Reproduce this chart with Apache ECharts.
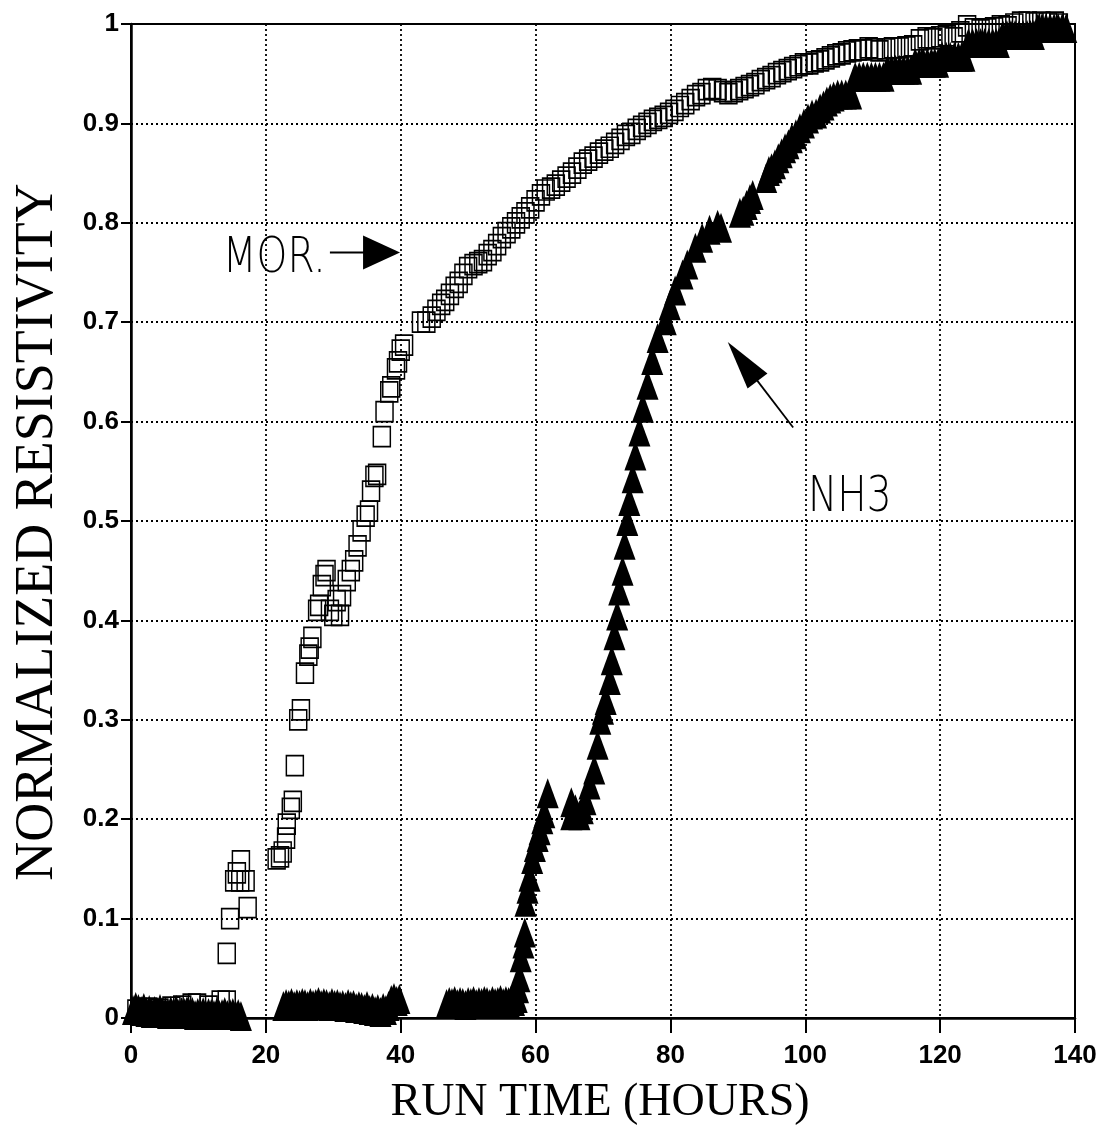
<!DOCTYPE html>
<html><head><meta charset="utf-8">
<script src="https://cdn.jsdelivr.net/npm/echarts@6/dist/echarts.min.js"></script>
<style>html,body{margin:0;padding:0;background:#fff}#c{width:1106px;height:1140px}</style>
</head><body><div id="c"></div>
<script>
// ---- axis ticks / labels ----
const xTickLabels = ['0','20','40','60','80','100','120','140'];
const yTickLabels = ['0','0.1','0.2','0.3','0.4','0.5','0.6','0.7','0.8','0.9','1'];
const xTitle = 'RUN TIME (HOURS)';
const yTitle = 'NORMALIZED RESISTIVITY';

// ---- MOR. series (open squares) ----
const morLow = [[0.8,0.008],[2.5,0.010],[4.2,0.009],[6.0,0.011],[7.6,0.012],[9.0,0.014],[9.8,0.014],[11.5,0.012],[13.3,0.017],[14.2,0.017]];
const morRise = [[14.2,0.065],[14.7,0.100],[15.3,0.138],[15.7,0.146],[16.2,0.138],[16.3,0.158],[17.0,0.138],[17.3,0.111],
 [21.6,0.160],[22.1,0.162],[22.5,0.167],[23.0,0.181],[23.1,0.195],[23.7,0.211],[24.0,0.218],[24.3,0.254],[24.8,0.300],[25.2,0.310],
 [25.8,0.347],[26.3,0.365],[26.5,0.372],[26.9,0.383],[27.6,0.410],[27.9,0.415],[28.3,0.435],[28.7,0.445],[29.0,0.450],[29.5,0.410],
 [30.0,0.405],[30.5,0.420],[31.0,0.405],[31.3,0.425],[32.0,0.440],[32.6,0.450],[33.1,0.460],[33.6,0.475],[34.2,0.490],[34.8,0.505],
 [35.3,0.510],[35.6,0.530],[36.1,0.545],[36.5,0.547],[37.2,0.585],[37.6,0.610],[38.3,0.630],[38.6,0.635],[39.3,0.653],[39.6,0.660],
 [40.0,0.672],[40.5,0.677]];
const morUpper = [[43.0,0.700],[43.8,0.700],[44.6,0.705],[45.3,0.712],[46.0,0.718],[46.6,0.722],[47.3,0.728],[48.0,0.735],[48.6,0.740],
 [49.3,0.748],[50.0,0.755],[50.8,0.758],[51.5,0.760],[52.2,0.762],[52.9,0.768],[53.6,0.772],[54.3,0.778],[55.0,0.785],[55.7,0.790],
 [56.4,0.795],[57.1,0.800],[57.8,0.805],[58.5,0.810],[59.2,0.815],[60.0,0.822],[60.8,0.828],[61.5,0.833],[62.3,0.835],[63.0,0.838],
 [63.8,0.842],[64.6,0.846],[65.4,0.850],[66.2,0.855],[67.0,0.860],[67.8,0.863],[68.6,0.866],[69.4,0.870],[70.2,0.873],[71.0,0.876],
 [71.8,0.880],[72.6,0.884],[73.4,0.888],[74.2,0.890],[75.0,0.894],[75.8,0.897],[76.6,0.900],[77.4,0.903],[78.2,0.905],[79.0,0.907],
 [79.8,0.910],[80.6,0.913],[81.4,0.917],[82.2,0.920],[83.0,0.924],[83.8,0.928],[84.6,0.930],[85.4,0.934],[86.2,0.935],[87.0,0.934],
 [87.8,0.932],[88.6,0.930],[89.4,0.932],[90.2,0.934],[91.0,0.936],[91.8,0.938],[92.6,0.940],[93.4,0.943],[94.2,0.945],[95.0,0.947],
 [95.8,0.950],[96.6,0.952],[97.4,0.954],[98.2,0.956],[99.0,0.958],[99.8,0.960],[100.6,0.960],[101.4,0.962],[102.2,0.963],[103.0,0.965],
 [103.8,0.967],[104.6,0.969],[105.4,0.970],[106.2,0.972],[107.0,0.973],[107.8,0.974],[108.6,0.974],[109.4,0.976],[110.2,0.975],
 [111.0,0.973],[112.0,0.975],[113.0,0.976],[114.0,0.976],[115.0,0.977],[116.0,0.978]];
const morTop = [[117.0,0.984],[118.0,0.986],[119.0,0.985],[120.0,0.987],[121.0,0.988],[122.0,0.986],[123.0,0.992],[124.0,0.998],
 [125.0,0.995],[126.0,0.994],[127.0,0.995],[128.0,0.996],[129.0,0.998],[130.0,0.997],[131.0,1.000],[132.0,1.002],[133.0,1.002],
 [134.0,1.001],[135.0,1.002],[136.0,1.001],[137.0,1.002],[137.6,1.000]];

// ---- NH3 series (filled triangles) ----
const nh3Base1 = [[0.3,0.008],[0.7,0.011],[1.1,0.009],[1.5,0.007],[1.9,0.010],[2.3,0.006],[2.7,0.008],[3.1,0.005],[3.5,0.007],[3.9,0.006],
 [4.3,0.009],[4.7,0.005],[5.1,0.006],[5.5,0.004],[5.9,0.007],[6.3,0.005],[6.7,0.008],[7.1,0.004],[7.5,0.006],[7.9,0.005],[8.3,0.007],
 [8.7,0.004],[9.1,0.006],[9.5,0.003],[9.9,0.005],[10.3,0.004],[10.7,0.006],[11.1,0.003],[11.5,0.005],[11.9,0.004],[12.3,0.003],
 [12.7,0.005],[13.1,0.003],[13.5,0.004],[13.9,0.006],[14.3,0.003],[14.7,0.004],[15.1,0.005],[15.5,0.003],[15.9,0.004],[16.3,0.002]];
const nh3Base2 = [[22.6,0.012],[23.0,0.014],[23.4,0.013],[23.8,0.015],[24.2,0.012],[24.6,0.014],[25.0,0.013],[25.4,0.015],[25.8,0.014],
 [26.2,0.012],[26.6,0.015],[27.0,0.013],[27.4,0.014],[27.8,0.016],[28.2,0.013],[28.6,0.015],[29.0,0.014],[29.4,0.012],[29.8,0.015],
 [30.2,0.013],[30.6,0.014],[31.0,0.012],[31.4,0.013],[31.8,0.011],[32.2,0.014],[32.6,0.012],[33.0,0.013],[33.4,0.010],[33.8,0.012],
 [34.2,0.011],[34.6,0.009],[35.0,0.012],[35.4,0.008],[35.8,0.010],[36.2,0.007],[36.6,0.009],[37.0,0.006],[37.4,0.010],[37.8,0.008],
 [38.2,0.012],[38.6,0.018],[39.0,0.020],[39.4,0.017],[39.8,0.019]];
const nh3Base3 = [[46.8,0.014],[47.2,0.016],[47.6,0.015],[48.0,0.017],[48.4,0.014],[48.8,0.016],[49.2,0.015],[49.6,0.013],[50.0,0.016],
 [50.4,0.015],[50.8,0.017],[51.2,0.014],[51.6,0.016],[52.0,0.015],[52.4,0.017],[52.8,0.016],[53.2,0.014],[53.6,0.017],[54.0,0.015],
 [54.4,0.016],[54.8,0.018],[55.2,0.015],[55.6,0.017],[56.0,0.016],[56.4,0.018],[56.8,0.017],[57.2,0.020]];
const nh3Rise = [[57.4,0.030],[57.6,0.041],[57.8,0.061],[58.2,0.075],[58.4,0.086],[58.5,0.117],[58.8,0.130],[59.1,0.142],[59.5,0.160],
 [59.9,0.172],[60.3,0.182],[60.6,0.189],[61.0,0.200],[61.3,0.206],[61.8,0.226],[65.3,0.204],[65.3,0.217],[65.9,0.210],[66.5,0.204],
 [67.0,0.210],[67.4,0.219],[68.0,0.235],[68.7,0.250],[69.2,0.275],[69.6,0.300],[70.0,0.310],[70.4,0.320],[71.0,0.340],[71.3,0.360],
 [71.7,0.385],[72.1,0.405],[72.4,0.430],[72.9,0.450],[73.2,0.476],[73.6,0.500],[73.9,0.520],[74.4,0.543],[74.8,0.566],[75.4,0.590],
 [75.9,0.614],[76.6,0.637],[77.3,0.662],[78.1,0.684],[79.3,0.702],[79.9,0.717],[80.7,0.732],[81.8,0.748],[82.5,0.758],[83.7,0.775],
 [84.7,0.785],[85.8,0.793],[87.0,0.798],[87.5,0.795]];
const nh3Upper = [[90.3,0.810],[90.8,0.812],[91.3,0.818],[91.8,0.824],[92.2,0.828],[94.2,0.845],[94.6,0.852],[95.0,0.855],[95.5,0.859],
 [96.0,0.865],[96.5,0.870],[97.0,0.875],[97.5,0.879],[98.0,0.885],[98.6,0.889],[99.2,0.895],[99.8,0.900],[100.4,0.905],[101.0,0.909],
 [101.6,0.910],[102.2,0.915],[102.7,0.918],[103.2,0.922],[103.7,0.925],[104.2,0.927]];
const nh3Plateau = [[104.8,0.929],[105.4,0.929],[106.0,0.929],[106.8,0.929],
 [107.4,0.947],[108.0,0.947],[108.6,0.947],[109.2,0.947],[109.8,0.947],[110.4,0.947],[111.0,0.947],[111.6,0.947],
 [112.2,0.954],[112.8,0.954],[113.4,0.954],[114.0,0.954],[114.6,0.954],[115.2,0.954],[115.7,0.954],
 [116.3,0.961],[116.9,0.961],[117.5,0.961],[118.1,0.961],[118.7,0.961],[119.2,0.961],[119.7,0.961],
 [120.3,0.967],[120.9,0.967],[121.5,0.967],[122.1,0.967],[122.7,0.967],[123.2,0.967],[123.6,0.967],
 [124.2,0.981],[124.8,0.981],[125.4,0.981],[126.0,0.981],[126.6,0.981],[127.2,0.981],[127.8,0.981],[128.3,0.981],[128.7,0.981],
 [129.3,0.989],[129.9,0.989],[130.5,0.989],[131.1,0.989],[131.7,0.989],[132.3,0.989],[132.9,0.989],[133.4,0.989],[133.9,0.989],
 [134.5,0.996],[135.1,0.996],[135.7,0.996],[136.3,0.996],[136.9,0.996],[137.5,0.996],[138.1,0.996],[138.7,0.996]];

// ---- annotations (data coordinates) ----
const morLabel = {text:'MOR.', at:[13.6,0.763]};
const morArrow = {tail:[29.5,0.770], tip:[39.9,0.770]};
const nh3Label = {text:'NH3', at:[100.4,0.523]};
const nh3Arrow = {tail:[98.2,0.594], tip:[88.5,0.680]};

const morData = [].concat(morLow, morRise, morUpper, morTop);
const nh3Data = [].concat(nh3Base1, nh3Base2, nh3Base3, nh3Rise, nh3Upper, nh3Plateau);

const chart = echarts.init(document.getElementById('c'), null, {renderer:'canvas'});
const gridStyle = {color:'#000', width:1.8, type:[2,3]};
chart.setOption({
  animation:false,
  backgroundColor:'#fff',
  grid:{left:131, right:31, top:24, bottom:122, show:true, borderColor:'#000', borderWidth:2, backgroundColor:'transparent'},
  xAxis:{type:'value', min:0, max:140, interval:20,
    axisLine:{show:true, onZero:false, lineStyle:{color:'#000', width:2.5}},
    axisTick:{show:true, length:15, lineStyle:{color:'#000', width:2}},
    axisLabel:{color:'#000', fontFamily:'Liberation Sans', fontWeight:'bold', fontSize:26, margin:25,
      formatter:(v,i)=>xTickLabels[i]},
    splitLine:{show:true, lineStyle:gridStyle}},
  yAxis:{type:'value', min:0, max:1, interval:0.1,
    axisLine:{show:true, onZero:false, lineStyle:{color:'#000', width:2.5}},
    axisTick:{show:true, length:10, lineStyle:{color:'#000', width:2}},
    axisLabel:{color:'#000', fontFamily:'Liberation Sans', fontWeight:'bold', fontSize:26, margin:12,
      formatter:(v,i)=>yTickLabels[i]},
    splitLine:{show:true, lineStyle:gridStyle}},
  series:[
    {type:'scatter', name:'NH3', data:nh3Data, symbol:'triangle', symbolSize:[22,30], clip:false,
     itemStyle:{color:'#000', opacity:1}, emphasis:{disabled:true}},
    {type:'scatter', name:'MOR.', data:morData, symbol:'rect', symbolSize:[17,20], clip:false,
     itemStyle:{color:'rgba(0,0,0,0)', borderColor:'#000', borderWidth:1.6, opacity:1}, emphasis:{disabled:true}}
  ]
});

function px(p){ return chart.convertToPixel({gridIndex:0}, p); }
function arrow(a, headLen, headHalf, lw){
  const [x1,y1]=px(a.tail), [x2,y2]=px(a.tip);
  const dx=x2-x1, dy=y2-y1, L=Math.hypot(dx,dy), ux=dx/L, uy=dy/L;
  const bx=x2-ux*headLen, by=y2-uy*headLen, nx=-uy, ny=ux;
  return [
    {type:'line', shape:{x1:x1,y1:y1,x2:bx+ux*2,y2:by+uy*2}, style:{stroke:'#000', lineWidth:lw}},
    {type:'polygon', shape:{points:[[x2,y2],[bx+nx*headHalf,by+ny*headHalf],[bx-nx*headHalf,by-ny*headHalf]]}, style:{fill:'#000'}}
  ];
}
function label(l){
  const [x,y]=px(l.at);
  return {type:'text', x:x, y:y, scaleX:0.8,
    style:{text:l.text, fill:'#000', font:'300 49px "DejaVu Sans"', textVerticalAlign:'middle', textAlign:'left'}};
}
chart.setOption({graphic:[].concat(
  arrow(morArrow, 37, 17, 2),
  arrow(nh3Arrow, 49, 12.5, 1.8),
  [label(morLabel), label(nh3Label),
   {type:'text', x:600, y:1103, style:{text:xTitle, fill:'#000', font:'46px "Liberation Serif"', textAlign:'center', textVerticalAlign:'middle'}},
   {type:'text', x:38, y:532, rotation:Math.PI/2, style:{text:yTitle, fill:'#000', font:'54px "Liberation Serif"', textAlign:'center', textVerticalAlign:'middle'}}]
)});
</script></body></html>
